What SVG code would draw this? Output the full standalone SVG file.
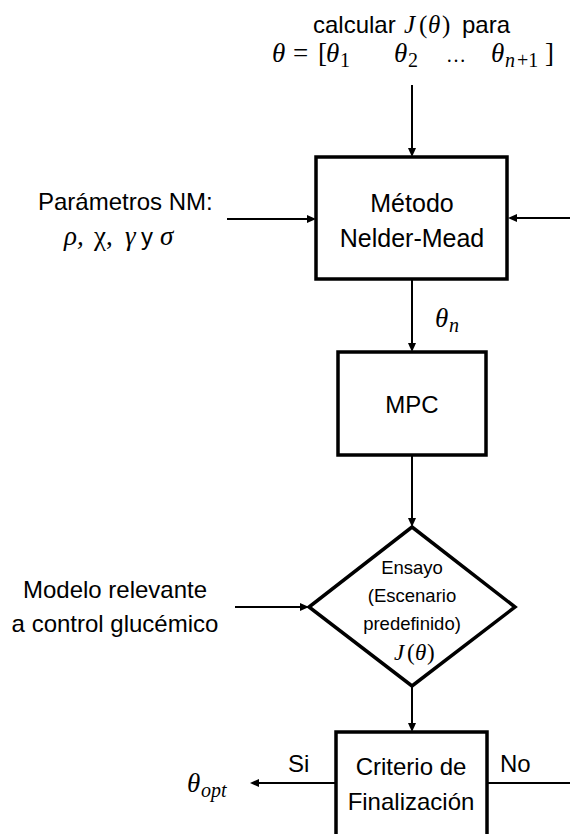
<svg xmlns="http://www.w3.org/2000/svg" width="570" height="834" viewBox="0 0 570 834">
<style>
.box{fill:#fff;stroke:#000;stroke-width:3.5}
.ln{fill:none;stroke:#000;stroke-width:2}
.t{font-family:"Liberation Sans",Arial,sans-serif;font-size:24px;fill:#000}
.ts{font-family:"Liberation Sans",Arial,sans-serif;font-size:18.5px;fill:#000}
.m{font-family:"Liberation Serif","Times New Roman",serif;font-size:27px;fill:#000}
.i{font-style:italic}
.sub{font-size:20px}
</style>
<defs>
<marker id="ah" markerWidth="10" markerHeight="10" refX="1" refY="5" orient="auto" markerUnits="userSpaceOnUse">
<path d="M0,1 L9,5 L0,9 z" fill="#000"/>
</marker>
</defs>
<rect width="570" height="834" fill="#fff"/>

<g id="connectors">
<line class="ln" x1="412" y1="85" x2="412" y2="149" marker-end="url(#ah)"/>
<line class="ln" x1="227" y1="219" x2="308" y2="219" marker-end="url(#ah)"/>
<line class="ln" x1="570" y1="218" x2="516" y2="218" marker-end="url(#ah)"/>
<line class="ln" x1="412" y1="279" x2="412" y2="344" marker-end="url(#ah)"/>
<line class="ln" x1="412" y1="455" x2="412" y2="519" marker-end="url(#ah)"/>
<line class="ln" x1="235" y1="607" x2="301" y2="607" marker-end="url(#ah)"/>
<line class="ln" x1="412" y1="686" x2="412" y2="724" marker-end="url(#ah)"/>
<line class="ln" x1="336" y1="783" x2="258" y2="783" marker-end="url(#ah)"/>
<line class="ln" x1="487" y1="783" x2="570" y2="783"/>
</g>

<g id="input-top">
<text class="t" x="313" y="33">calcular</text>
<text class="m" y="33" style="font-size:25px"><tspan class="i" x="404">J</tspan><tspan x="419">(</tspan><tspan class="i" x="428">θ</tspan><tspan x="442">)</tspan></text>
<text class="t" x="462" y="33">para</text>
<text class="m" y="62"><tspan class="i" x="272">θ</tspan><tspan x="293">=</tspan><tspan x="318">[</tspan><tspan class="i" x="326">θ</tspan><tspan class="sub" x="340" dy="5">1</tspan><tspan class="i" x="394" dy="-5">θ</tspan><tspan class="sub" x="408" dy="5">2</tspan><tspan class="sub" x="446" dy="-5">…</tspan><tspan class="i" x="491">θ</tspan><tspan class="sub i" x="505" dy="5">n</tspan><tspan class="sub" x="517">+1</tspan><tspan x="545" dy="-5">]</tspan></text>
</g>

<g id="params-nm">
<text class="t" x="38" y="210">Parámetros NM:</text>
<text class="m" y="245"><tspan class="i" x="64">ρ,</tspan><tspan x="94">χ,</tspan><tspan class="i" x="125">γ</tspan><tspan class="i" x="160">σ</tspan></text>
<text class="t" x="141" y="245">y</text>
</g>

<g id="nelder-mead">
<rect class="box" x="316" y="157" width="191" height="122"/>
<text class="t" x="412" y="212" text-anchor="middle" style="font-size:25px">Método</text>
<text class="t" x="412" y="247" text-anchor="middle" style="font-size:25px">Nelder-Mead</text>
</g>

<g id="theta-n">
<text class="m"><tspan class="i" x="435" y="327">θ</tspan><tspan class="sub i" x="449" y="332">n</tspan></text>
</g>

<g id="mpc">
<rect class="box" x="338" y="352" width="148" height="103"/>
<text class="t" x="412" y="413" text-anchor="middle">MPC</text>
</g>

<g id="modelo">
<text class="t" x="115" y="598" text-anchor="middle">Modelo relevante</text>
<text class="t" x="115" y="632" text-anchor="middle">a control glucémico</text>
</g>

<g id="ensayo">
<polygon class="box" points="412,527 515,607 412,686 309,607"/>
<text class="ts" x="412" y="574" text-anchor="middle">Ensayo</text>
<text class="ts" x="412" y="602" text-anchor="middle">(Escenario</text>
<text class="ts" x="412" y="630" text-anchor="middle">predefinido)</text>
<text class="m" y="660" style="font-size:23px"><tspan class="i" x="394">J</tspan><tspan x="407">(</tspan><tspan class="i" x="415">θ</tspan><tspan x="427">)</tspan></text>
</g>

<g id="criterio">
<rect class="box" x="336" y="732" width="151" height="112"/>
<text class="t" x="411" y="775" text-anchor="middle">Criterio de</text>
<text class="t" x="411" y="810" text-anchor="middle">Finalización</text>
</g>

<g id="labels">
<text class="t" x="288" y="772">Si</text>
<text class="t" x="500" y="772">No</text>
<text class="m"><tspan class="i" x="187" y="792">θ</tspan><tspan class="sub i" x="201" y="797">opt</tspan></text>
</g>
</svg>
